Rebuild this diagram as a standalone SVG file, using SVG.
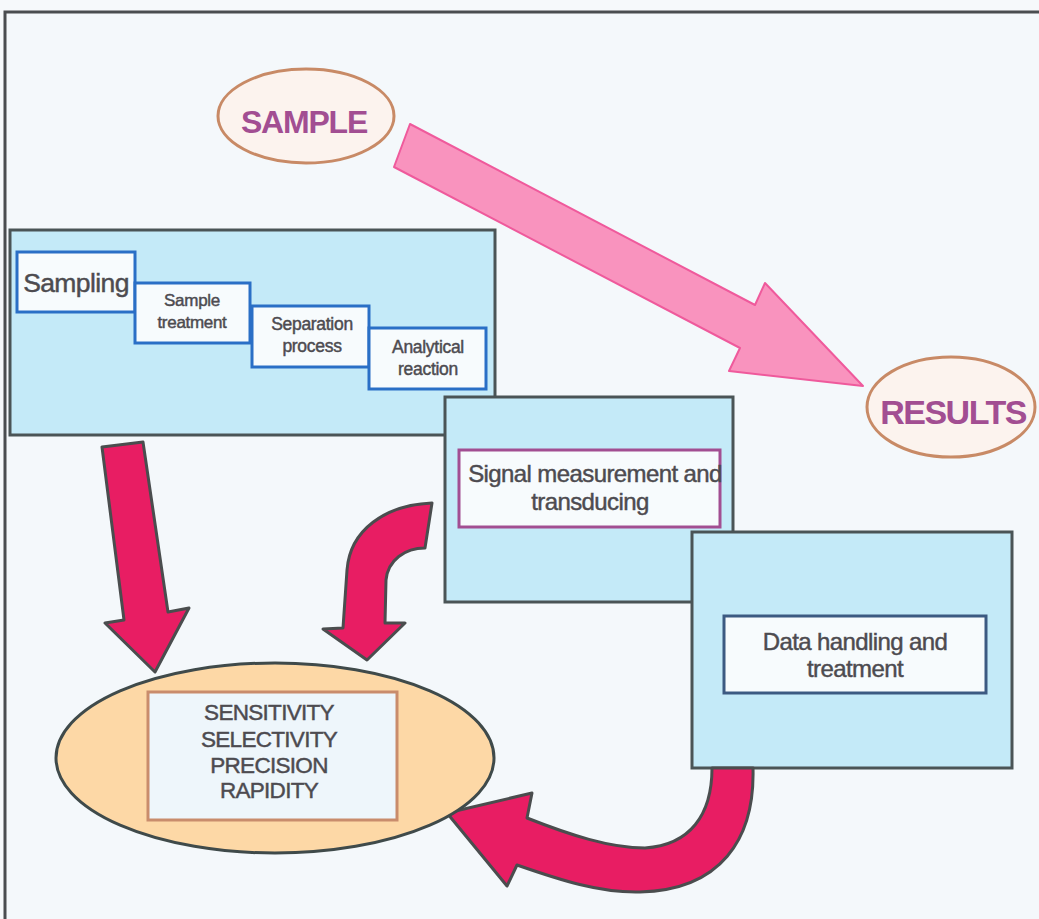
<svg xmlns="http://www.w3.org/2000/svg" width="1039" height="919" viewBox="0 0 1039 919">
  <style>
    .frame { fill: #f4f8fb; stroke: #4a4d50; stroke-width: 3; }
    .panel { fill: #c4eaf8; stroke: #4a5456; stroke-width: 3; }
    .step { fill: #f7fbfd; stroke: #2a6fc6; stroke-width: 3; }
    .label { font-family: "Liberation Sans", Arial, sans-serif; fill: #4d4b50; stroke: #4d4b50; stroke-width: 0.45; text-anchor: middle; }
    .big { font-family: "Liberation Sans", Arial, sans-serif; font-weight: bold; fill: #a24e92; text-anchor: middle; }
    .oval { fill: #fcf3ee; stroke: #c88a66; stroke-width: 3; }
    .redarrow { fill: #e81d63; stroke: #4a4d4e; stroke-width: 3; stroke-linejoin: round; }
  </style>
  <rect x="0" y="0" width="1039" height="919" fill="#f6f9fb"/>
  <rect class="frame" x="5" y="12" width="1040" height="920"/>

  <g id="connectors">
    <polygon id="big-arrow" points="410,124 394,167 740,348 729,371 863,386 765,283 755,305" fill="#f993be" stroke="#ef5a9c" stroke-width="2" stroke-linejoin="round"/>
    <polygon id="arrow-left" class="redarrow" points="102,447 143,442 168,612 189,608 155,672 105,623 124,620"/>
    <path id="arrow-curve-top" class="redarrow" d="M432,503 C385,505 350,530 347,570 L343,628 L323,629 L367,660 L405,623 L385,623 L386,580 C388,560 405,548 425,548 Z"/>
  </g>

  <g id="sample">
    <ellipse class="oval" cx="306" cy="116" rx="88" ry="47"/>
    <text class="big" x="304" y="133" font-size="32" letter-spacing="-1.2">SAMPLE</text>
  </g>

  <g id="results">
    <ellipse class="oval" cx="951" cy="407" rx="84" ry="50"/>
    <text class="big" x="953" y="424" font-size="34" letter-spacing="-1.5">RESULTS</text>
  </g>

  <g id="preparation">
    <rect class="panel" x="10" y="230" width="485" height="205"/>
    <g id="sampling">
      <rect class="step" x="17" y="252" width="118" height="60"/>
      <text class="label" x="76" y="292" font-size="26.5" letter-spacing="-0.6">Sampling</text>
    </g>
    <g id="sample-treatment">
      <rect class="step" x="135" y="283" width="115" height="60"/>
      <text class="label" x="192" y="306" font-size="17" letter-spacing="-0.3">Sample</text>
      <text class="label" x="192" y="328" font-size="17" letter-spacing="-0.3">treatment</text>
    </g>
    <g id="separation">
      <rect class="step" x="252" y="306" width="117" height="61"/>
      <text class="label" x="312" y="330" font-size="17.5" letter-spacing="-0.3">Separation</text>
      <text class="label" x="312" y="352" font-size="17.5" letter-spacing="-0.3">process</text>
    </g>
    <g id="analytical">
      <rect class="step" x="369" y="328" width="117" height="61"/>
      <text class="label" x="428" y="353" font-size="17.5" letter-spacing="-0.3">Analytical</text>
      <text class="label" x="428" y="375" font-size="17.5" letter-spacing="-0.3">reaction</text>
    </g>
  </g>

  <g id="signal">
    <rect class="panel" x="445" y="397" width="288" height="205"/>
    <rect x="459" y="450" width="261" height="77" fill="#f7fbfd" stroke="#a24e92" stroke-width="3"/>
    <text class="label" x="595" y="482" font-size="24" letter-spacing="-0.6">Signal measurement and</text>
    <text class="label" x="590" y="510" font-size="24" letter-spacing="-0.6">transducing</text>
  </g>

  <g id="data">
    <rect class="panel" x="692" y="532" width="320" height="236"/>
    <rect x="724" y="616" width="262" height="77" fill="#f7fbfd" stroke="#3c5a82" stroke-width="3"/>
    <text class="label" x="855" y="650" font-size="24" letter-spacing="-0.6">Data handling and</text>
    <text class="label" x="855" y="677" font-size="24" letter-spacing="-0.6">treatment</text>
  </g>

  <g id="connector-bottom">
    <path id="arrow-curve-bottom" class="redarrow" d="M712,768 L753,768 C755,840 720,890 640,892 C600,893 560,880 517,865 L507,886 L447,813 L532,793 L527,818 C570,835 610,848 645,848 C690,845 712,815 712,768 Z"/>
  </g>

  <g id="qualities">
    <ellipse cx="275" cy="758" rx="219" ry="95" fill="#fdd8a6" stroke="#3f4a4a" stroke-width="3"/>
    <rect x="148" y="692" width="249" height="128" fill="#eef6fb" stroke="#c98c6c" stroke-width="3"/>
    <text class="label" x="269" y="720" font-size="22.5" letter-spacing="-0.7">SENSITIVITY</text>
    <text class="label" x="269" y="747" font-size="22.5" letter-spacing="-0.7">SELECTIVITY</text>
    <text class="label" x="269" y="773" font-size="22.5" letter-spacing="-0.7">PRECISION</text>
    <text class="label" x="269" y="798" font-size="22.5" letter-spacing="-0.7">RAPIDITY</text>
  </g>
</svg>
